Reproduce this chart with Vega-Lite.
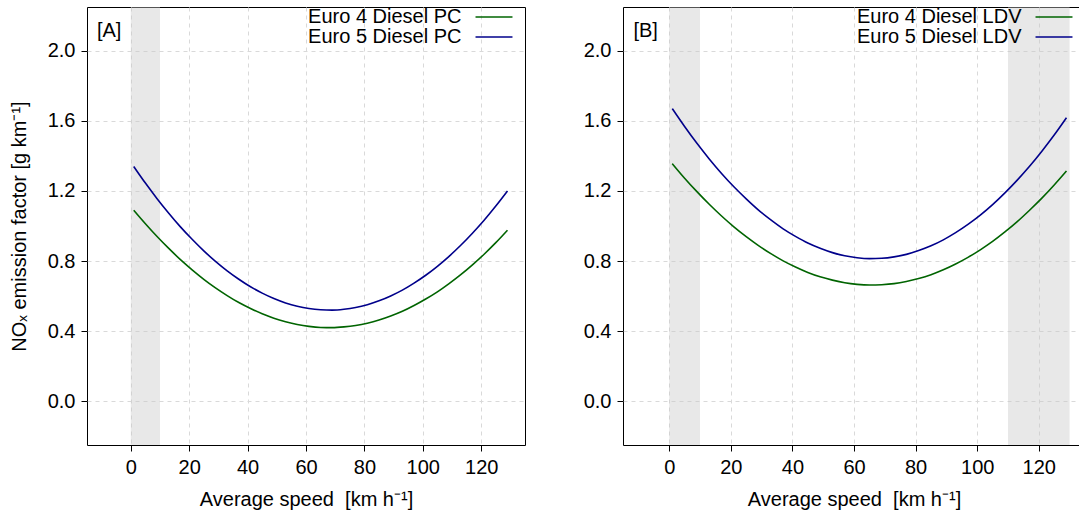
{
  "$schema": "https://vega.github.io/schema/vega-lite/v6.json",
  "background": "white",
  "padding": {"left": 8, "top": 6, "right": 0, "bottom": 0},
  "config": {
    "font": "Liberation Sans",
    "view": {"stroke": "black", "strokeWidth": 1},
    "axis": {
      "labelFontSize": 20, "titleFontSize": 20, "titleFontWeight": "normal",
      "labelColor": "black", "titleColor": "black", "labelFont": "Liberation Sans", "titleFont": "Liberation Sans",
      "domain": false, "tickColor": "black", "tickSize": 6, "labelPadding": 6,
      "gridColor": "#d9d9d9", "gridDash": [4, 4], "gridWidth": 1
    },
    "legend": {
      "title": null, "orient": "top-right", "offset": 0, "padding": 0,
      "symbolType": "M-2.64,0H2.64M3.93,0", "symbolSize": 196, "symbolStrokeWidth": 1.6,
      "labelFontSize": 20, "labelColor": "black", "labelFont": "Liberation Sans",
      "labelAlign": "right", "labelOffset": -42.5, "labelLimit": 400,
      "rowPadding": -4
    }
  },
  "datasets": {
    "curves": [
      {"panel": "A", "series": "Euro 4 Diesel PC", "speed": 1, "nox": 1.090},
      {"panel": "A", "series": "Euro 4 Diesel PC", "speed": 5, "nox": 1.013},
      {"panel": "A", "series": "Euro 4 Diesel PC", "speed": 9, "nox": 0.940},
      {"panel": "A", "series": "Euro 4 Diesel PC", "speed": 13, "nox": 0.872},
      {"panel": "A", "series": "Euro 4 Diesel PC", "speed": 17, "nox": 0.808},
      {"panel": "A", "series": "Euro 4 Diesel PC", "speed": 21, "nox": 0.750},
      {"panel": "A", "series": "Euro 4 Diesel PC", "speed": 25, "nox": 0.696},
      {"panel": "A", "series": "Euro 4 Diesel PC", "speed": 29, "nox": 0.647},
      {"panel": "A", "series": "Euro 4 Diesel PC", "speed": 33, "nox": 0.603},
      {"panel": "A", "series": "Euro 4 Diesel PC", "speed": 37, "nox": 0.563},
      {"panel": "A", "series": "Euro 4 Diesel PC", "speed": 41, "nox": 0.529},
      {"panel": "A", "series": "Euro 4 Diesel PC", "speed": 45, "nox": 0.499},
      {"panel": "A", "series": "Euro 4 Diesel PC", "speed": 49, "nox": 0.474},
      {"panel": "A", "series": "Euro 4 Diesel PC", "speed": 53, "nox": 0.454},
      {"panel": "A", "series": "Euro 4 Diesel PC", "speed": 57, "nox": 0.438},
      {"panel": "A", "series": "Euro 4 Diesel PC", "speed": 61, "nox": 0.427},
      {"panel": "A", "series": "Euro 4 Diesel PC", "speed": 65, "nox": 0.421},
      {"panel": "A", "series": "Euro 4 Diesel PC", "speed": 69, "nox": 0.420},
      {"panel": "A", "series": "Euro 4 Diesel PC", "speed": 73, "nox": 0.424},
      {"panel": "A", "series": "Euro 4 Diesel PC", "speed": 77, "nox": 0.432},
      {"panel": "A", "series": "Euro 4 Diesel PC", "speed": 81, "nox": 0.445},
      {"panel": "A", "series": "Euro 4 Diesel PC", "speed": 85, "nox": 0.463},
      {"panel": "A", "series": "Euro 4 Diesel PC", "speed": 89, "nox": 0.486},
      {"panel": "A", "series": "Euro 4 Diesel PC", "speed": 93, "nox": 0.513},
      {"panel": "A", "series": "Euro 4 Diesel PC", "speed": 97, "nox": 0.546},
      {"panel": "A", "series": "Euro 4 Diesel PC", "speed": 101, "nox": 0.583},
      {"panel": "A", "series": "Euro 4 Diesel PC", "speed": 105, "nox": 0.624},
      {"panel": "A", "series": "Euro 4 Diesel PC", "speed": 109, "nox": 0.671},
      {"panel": "A", "series": "Euro 4 Diesel PC", "speed": 113, "nox": 0.722},
      {"panel": "A", "series": "Euro 4 Diesel PC", "speed": 117, "nox": 0.778},
      {"panel": "A", "series": "Euro 4 Diesel PC", "speed": 121, "nox": 0.839},
      {"panel": "A", "series": "Euro 4 Diesel PC", "speed": 125, "nox": 0.905},
      {"panel": "A", "series": "Euro 4 Diesel PC", "speed": 129, "nox": 0.976},
      {"panel": "A", "series": "Euro 5 Diesel PC", "speed": 1, "nox": 1.340},
      {"panel": "A", "series": "Euro 5 Diesel PC", "speed": 5, "nox": 1.245},
      {"panel": "A", "series": "Euro 5 Diesel PC", "speed": 9, "nox": 1.156},
      {"panel": "A", "series": "Euro 5 Diesel PC", "speed": 13, "nox": 1.073},
      {"panel": "A", "series": "Euro 5 Diesel PC", "speed": 17, "nox": 0.995},
      {"panel": "A", "series": "Euro 5 Diesel PC", "speed": 21, "nox": 0.924},
      {"panel": "A", "series": "Euro 5 Diesel PC", "speed": 25, "nox": 0.858},
      {"panel": "A", "series": "Euro 5 Diesel PC", "speed": 29, "nox": 0.798},
      {"panel": "A", "series": "Euro 5 Diesel PC", "speed": 33, "nox": 0.744},
      {"panel": "A", "series": "Euro 5 Diesel PC", "speed": 37, "nox": 0.696},
      {"panel": "A", "series": "Euro 5 Diesel PC", "speed": 41, "nox": 0.653},
      {"panel": "A", "series": "Euro 5 Diesel PC", "speed": 45, "nox": 0.617},
      {"panel": "A", "series": "Euro 5 Diesel PC", "speed": 49, "nox": 0.586},
      {"panel": "A", "series": "Euro 5 Diesel PC", "speed": 53, "nox": 0.561},
      {"panel": "A", "series": "Euro 5 Diesel PC", "speed": 57, "nox": 0.542},
      {"panel": "A", "series": "Euro 5 Diesel PC", "speed": 61, "nox": 0.529},
      {"panel": "A", "series": "Euro 5 Diesel PC", "speed": 65, "nox": 0.522},
      {"panel": "A", "series": "Euro 5 Diesel PC", "speed": 69, "nox": 0.520},
      {"panel": "A", "series": "Euro 5 Diesel PC", "speed": 73, "nox": 0.525},
      {"panel": "A", "series": "Euro 5 Diesel PC", "speed": 77, "nox": 0.535},
      {"panel": "A", "series": "Euro 5 Diesel PC", "speed": 81, "nox": 0.551},
      {"panel": "A", "series": "Euro 5 Diesel PC", "speed": 85, "nox": 0.573},
      {"panel": "A", "series": "Euro 5 Diesel PC", "speed": 89, "nox": 0.601},
      {"panel": "A", "series": "Euro 5 Diesel PC", "speed": 93, "nox": 0.634},
      {"panel": "A", "series": "Euro 5 Diesel PC", "speed": 97, "nox": 0.674},
      {"panel": "A", "series": "Euro 5 Diesel PC", "speed": 101, "nox": 0.719},
      {"panel": "A", "series": "Euro 5 Diesel PC", "speed": 105, "nox": 0.770},
      {"panel": "A", "series": "Euro 5 Diesel PC", "speed": 109, "nox": 0.827},
      {"panel": "A", "series": "Euro 5 Diesel PC", "speed": 113, "nox": 0.890},
      {"panel": "A", "series": "Euro 5 Diesel PC", "speed": 117, "nox": 0.959},
      {"panel": "A", "series": "Euro 5 Diesel PC", "speed": 121, "nox": 1.033},
      {"panel": "A", "series": "Euro 5 Diesel PC", "speed": 125, "nox": 1.114},
      {"panel": "A", "series": "Euro 5 Diesel PC", "speed": 129, "nox": 1.200},
      {"panel": "B", "series": "Euro 4 Diesel LDV", "speed": 1, "nox": 1.356},
      {"panel": "B", "series": "Euro 4 Diesel LDV", "speed": 5, "nox": 1.273},
      {"panel": "B", "series": "Euro 4 Diesel LDV", "speed": 9, "nox": 1.196},
      {"panel": "B", "series": "Euro 4 Diesel LDV", "speed": 13, "nox": 1.124},
      {"panel": "B", "series": "Euro 4 Diesel LDV", "speed": 17, "nox": 1.057},
      {"panel": "B", "series": "Euro 4 Diesel LDV", "speed": 21, "nox": 0.995},
      {"panel": "B", "series": "Euro 4 Diesel LDV", "speed": 25, "nox": 0.939},
      {"panel": "B", "series": "Euro 4 Diesel LDV", "speed": 29, "nox": 0.888},
      {"panel": "B", "series": "Euro 4 Diesel LDV", "speed": 33, "nox": 0.842},
      {"panel": "B", "series": "Euro 4 Diesel LDV", "speed": 37, "nox": 0.801},
      {"panel": "B", "series": "Euro 4 Diesel LDV", "speed": 41, "nox": 0.766},
      {"panel": "B", "series": "Euro 4 Diesel LDV", "speed": 45, "nox": 0.735},
      {"panel": "B", "series": "Euro 4 Diesel LDV", "speed": 49, "nox": 0.710},
      {"panel": "B", "series": "Euro 4 Diesel LDV", "speed": 53, "nox": 0.691},
      {"panel": "B", "series": "Euro 4 Diesel LDV", "speed": 57, "nox": 0.676},
      {"panel": "B", "series": "Euro 4 Diesel LDV", "speed": 61, "nox": 0.667},
      {"panel": "B", "series": "Euro 4 Diesel LDV", "speed": 65, "nox": 0.663},
      {"panel": "B", "series": "Euro 4 Diesel LDV", "speed": 69, "nox": 0.665},
      {"panel": "B", "series": "Euro 4 Diesel LDV", "speed": 73, "nox": 0.671},
      {"panel": "B", "series": "Euro 4 Diesel LDV", "speed": 77, "nox": 0.683},
      {"panel": "B", "series": "Euro 4 Diesel LDV", "speed": 81, "nox": 0.700},
      {"panel": "B", "series": "Euro 4 Diesel LDV", "speed": 85, "nox": 0.722},
      {"panel": "B", "series": "Euro 4 Diesel LDV", "speed": 89, "nox": 0.750},
      {"panel": "B", "series": "Euro 4 Diesel LDV", "speed": 93, "nox": 0.783},
      {"panel": "B", "series": "Euro 4 Diesel LDV", "speed": 97, "nox": 0.821},
      {"panel": "B", "series": "Euro 4 Diesel LDV", "speed": 101, "nox": 0.864},
      {"panel": "B", "series": "Euro 4 Diesel LDV", "speed": 105, "nox": 0.912},
      {"panel": "B", "series": "Euro 4 Diesel LDV", "speed": 109, "nox": 0.966},
      {"panel": "B", "series": "Euro 4 Diesel LDV", "speed": 113, "nox": 1.025},
      {"panel": "B", "series": "Euro 4 Diesel LDV", "speed": 117, "nox": 1.090},
      {"panel": "B", "series": "Euro 4 Diesel LDV", "speed": 121, "nox": 1.159},
      {"panel": "B", "series": "Euro 4 Diesel LDV", "speed": 125, "nox": 1.234},
      {"panel": "B", "series": "Euro 4 Diesel LDV", "speed": 129, "nox": 1.314},
      {"panel": "B", "series": "Euro 5 Diesel LDV", "speed": 1, "nox": 1.670},
      {"panel": "B", "series": "Euro 5 Diesel LDV", "speed": 5, "nox": 1.568},
      {"panel": "B", "series": "Euro 5 Diesel LDV", "speed": 9, "nox": 1.472},
      {"panel": "B", "series": "Euro 5 Diesel LDV", "speed": 13, "nox": 1.383},
      {"panel": "B", "series": "Euro 5 Diesel LDV", "speed": 17, "nox": 1.300},
      {"panel": "B", "series": "Euro 5 Diesel LDV", "speed": 21, "nox": 1.224},
      {"panel": "B", "series": "Euro 5 Diesel LDV", "speed": 25, "nox": 1.155},
      {"panel": "B", "series": "Euro 5 Diesel LDV", "speed": 29, "nox": 1.091},
      {"panel": "B", "series": "Euro 5 Diesel LDV", "speed": 33, "nox": 1.035},
      {"panel": "B", "series": "Euro 5 Diesel LDV", "speed": 37, "nox": 0.984},
      {"panel": "B", "series": "Euro 5 Diesel LDV", "speed": 41, "nox": 0.941},
      {"panel": "B", "series": "Euro 5 Diesel LDV", "speed": 45, "nox": 0.903},
      {"panel": "B", "series": "Euro 5 Diesel LDV", "speed": 49, "nox": 0.873},
      {"panel": "B", "series": "Euro 5 Diesel LDV", "speed": 53, "nox": 0.848},
      {"panel": "B", "series": "Euro 5 Diesel LDV", "speed": 57, "nox": 0.830},
      {"panel": "B", "series": "Euro 5 Diesel LDV", "speed": 61, "nox": 0.819},
      {"panel": "B", "series": "Euro 5 Diesel LDV", "speed": 65, "nox": 0.814},
      {"panel": "B", "series": "Euro 5 Diesel LDV", "speed": 69, "nox": 0.816},
      {"panel": "B", "series": "Euro 5 Diesel LDV", "speed": 73, "nox": 0.824},
      {"panel": "B", "series": "Euro 5 Diesel LDV", "speed": 77, "nox": 0.838},
      {"panel": "B", "series": "Euro 5 Diesel LDV", "speed": 81, "nox": 0.860},
      {"panel": "B", "series": "Euro 5 Diesel LDV", "speed": 85, "nox": 0.887},
      {"panel": "B", "series": "Euro 5 Diesel LDV", "speed": 89, "nox": 0.921},
      {"panel": "B", "series": "Euro 5 Diesel LDV", "speed": 93, "nox": 0.962},
      {"panel": "B", "series": "Euro 5 Diesel LDV", "speed": 97, "nox": 1.009},
      {"panel": "B", "series": "Euro 5 Diesel LDV", "speed": 101, "nox": 1.062},
      {"panel": "B", "series": "Euro 5 Diesel LDV", "speed": 105, "nox": 1.122},
      {"panel": "B", "series": "Euro 5 Diesel LDV", "speed": 109, "nox": 1.189},
      {"panel": "B", "series": "Euro 5 Diesel LDV", "speed": 113, "nox": 1.262},
      {"panel": "B", "series": "Euro 5 Diesel LDV", "speed": 117, "nox": 1.341},
      {"panel": "B", "series": "Euro 5 Diesel LDV", "speed": 121, "nox": 1.427},
      {"panel": "B", "series": "Euro 5 Diesel LDV", "speed": 125, "nox": 1.519},
      {"panel": "B", "series": "Euro 5 Diesel LDV", "speed": 129, "nox": 1.618}
    ],
    "bands": [
      {"panel": "A", "from": 0, "to": 10},
      {"panel": "B", "from": 0, "to": 10},
      {"panel": "B", "from": 110, "to": 130}
    ],
    "tags": [
      {"panel": "A", "tag": "[A]", "speed": -11.6, "nox": 2.115},
      {"panel": "B", "tag": "[B]", "speed": -11.6, "nox": 2.115}
    ]
  },
  "spacing": 56,
  "resolve": {"scale": {"color": "independent"}, "legend": {"color": "independent"}},
  "hconcat": [
    {
      "width": 438,
      "height": 438,
      "layer": [
        {
          "data": {"name": "bands"},
          "transform": [{"filter": "datum.panel === 'A'"}],
          "mark": {"type": "rect", "fill": "#c8c8c8", "opacity": 0.42},
          "encoding": {
            "x": {"field": "from", "type": "quantitative", "scale": {"domain": [-15, 135], "nice": false, "zero": false}},
            "x2": {"field": "to"}
          }
        },
        {
          "data": {"name": "curves"},
          "transform": [{"filter": "datum.panel === 'A'"}],
          "mark": {"type": "line", "strokeWidth": 1.6, "interpolate": "monotone"},
          "encoding": {
            "x": {
              "field": "speed", "type": "quantitative",
              "scale": {"domain": [-15, 135], "nice": false, "zero": false},
              "axis": {"values": [0, 20, 40, 60, 80, 100, 120], "title": "Average speed\u00a0 [km h⁻¹]", "titlePadding": 12}
            },
            "y": {
              "field": "nox", "type": "quantitative",
              "scale": {"domain": [-0.25, 2.25], "nice": false, "zero": false},
              "axis": {"values": [0, 0.4, 0.8, 1.2, 1.6, 2.0], "format": ".1f", "title": "NOₓ emission factor [g km⁻¹]", "titlePadding": 18}
            },
            "color": {
              "field": "series", "type": "nominal",
              "scale": {"domain": ["Euro 4 Diesel PC", "Euro 5 Diesel PC"], "range": ["#006400", "#00008b"]}
            }
          }
        },
        {
          "data": {"name": "tags"},
          "transform": [{"filter": "datum.panel === 'A'"}],
          "mark": {"type": "text", "align": "left", "baseline": "middle", "fontSize": 20, "color": "black"},
          "encoding": {
            "x": {"field": "speed", "type": "quantitative"},
            "y": {"field": "nox", "type": "quantitative"},
            "text": {"field": "tag"}
          }
        }
      ]
    },
    {
      "width": 462,
      "height": 438,
      "layer": [
        {
          "data": {"name": "bands"},
          "transform": [{"filter": "datum.panel === 'B'"}],
          "mark": {"type": "rect", "fill": "#c8c8c8", "opacity": 0.42},
          "encoding": {
            "x": {"field": "from", "type": "quantitative", "scale": {"domain": [-15, 135], "nice": false, "zero": false}},
            "x2": {"field": "to"}
          }
        },
        {
          "data": {"name": "curves"},
          "transform": [{"filter": "datum.panel === 'B'"}],
          "mark": {"type": "line", "strokeWidth": 1.6, "interpolate": "monotone"},
          "encoding": {
            "x": {
              "field": "speed", "type": "quantitative",
              "scale": {"domain": [-15, 135], "nice": false, "zero": false},
              "axis": {"values": [0, 20, 40, 60, 80, 100, 120], "title": "Average speed\u00a0 [km h⁻¹]", "titlePadding": 12}
            },
            "y": {
              "field": "nox", "type": "quantitative",
              "scale": {"domain": [-0.25, 2.25], "nice": false, "zero": false},
              "axis": {"values": [0, 0.4, 0.8, 1.2, 1.6, 2.0], "format": ".1f", "title": null}
            },
            "color": {
              "field": "series", "type": "nominal",
              "scale": {"domain": ["Euro 4 Diesel LDV", "Euro 5 Diesel LDV"], "range": ["#006400", "#00008b"]}
            }
          }
        },
        {
          "data": {"name": "tags"},
          "transform": [{"filter": "datum.panel === 'B'"}],
          "mark": {"type": "text", "align": "left", "baseline": "middle", "fontSize": 20, "color": "black"},
          "encoding": {
            "x": {"field": "speed", "type": "quantitative"},
            "y": {"field": "nox", "type": "quantitative"},
            "text": {"field": "tag"}
          }
        }
      ]
    }
  ]
}
